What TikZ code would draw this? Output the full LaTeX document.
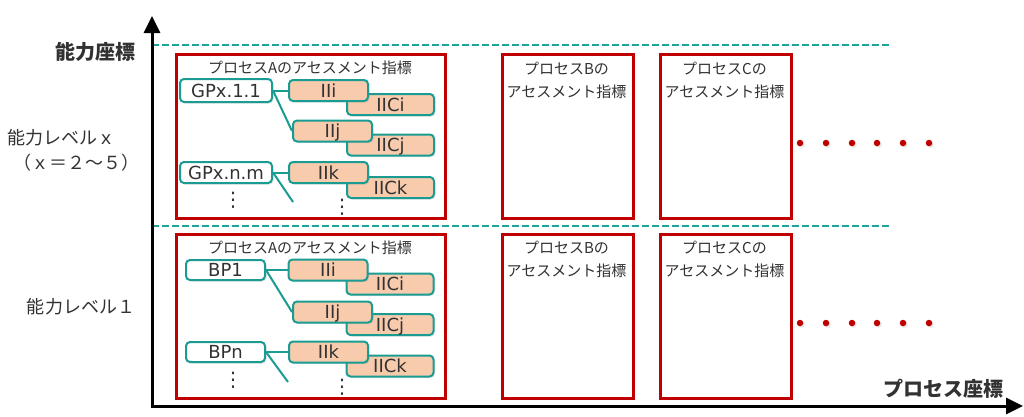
\documentclass[tikz,border=0pt]{standalone}
\usepackage{fontspec}
\setmainfont{Noto Sans CJK JP}
\newfontfamily\latf{DejaVu Sans}
\usetikzlibrary{arrows.meta,shadows}
\definecolor{tealb}{RGB}{26,156,146}
\definecolor{tealdash}{RGB}{30,165,155}
\definecolor{redb}{RGB}{192,0,0}
\definecolor{peach}{RGB}{248,203,173}
\definecolor{txt}{RGB}{50,50,50}
\begin{document}
\begin{tikzpicture}[x=1pt,y=-1pt,
  text=txt,
  softshadow/.style={drop shadow={shadow xshift=1.5pt,shadow yshift=-1.5pt,opacity=0.2}},
  procbox/.style={draw=redb,line width=2.5pt,fill=white,softshadow,anchor=north west,inner sep=0pt},
  smallbox/.style={draw=tealb,line width=2pt,rounded corners=4pt,softshadow,inner sep=0pt,
     text height=13.6pt,text depth=0.6pt,font=\latf\fontsize{18}{18}\selectfont},
  gpbox/.style={smallbox,fill=white},
  iibox/.style={smallbox,fill=peach,minimum width=79pt,minimum height=21pt},
  iicbox/.style={smallbox,fill=peach,minimum width=87pt,minimum height=21pt},
  ttl/.style={font=\fontsize{15}{23.5}\selectfont,align=center,inner sep=0pt},
  side/.style={font=\fontsize{18}{20}\selectfont,inner sep=0pt},
  axlabel/.style={font=\bfseries\fontsize{20}{22}\selectfont,inner sep=0pt},
  vdot/.style={font=\latf\fontsize{20}{20}\selectfont,inner sep=0pt},
  conn/.style={draw=tealb,line width=2pt},
  dashline/.style={draw=tealdash,line width=2pt,dash pattern=on 7pt off 3pt},
  axis/.style={line width=3pt,black,{Triangle[length=17pt,width=16pt]}-{Triangle[length=17pt,width=16pt]}},
  rdot/.style={circle,fill=redb,minimum size=6.5pt,inner sep=0pt,softshadow}
]
\useasboundingbox (0,0) rectangle (1024,416);

% dashed level lines
\coordinate (d1s) at (152,45);  \coordinate (d1e) at (890,45);
\coordinate (d2s) at (152,226); \coordinate (d2e) at (890,226);
\draw[dashline] (d1s) -- (d1e);
\draw[dashline] (d2s) -- (d2e);

% process boxes
\node[procbox,minimum width=269pt,minimum height=164pt] (A1) at (175,53) {};
\node[procbox,minimum width=131pt,minimum height=164pt] (B1) at (501,53) {};
\node[procbox,minimum width=131pt,minimum height=164pt] (C1) at (659,53) {};
\node[procbox,minimum width=269pt,minimum height=164pt] (A2) at (175,233) {};
\node[procbox,minimum width=131pt,minimum height=164pt] (B2) at (501,233) {};
\node[procbox,minimum width=131pt,minimum height=164pt] (C2) at (659,233) {};

% titles
\node[ttl] (tA1) at (310,68) {プロセスAのアセスメント指標};
\node[ttl] (tB1) at (566.5,80.5) {プロセスBの\\アセスメント指標};
\node[ttl] (tC1) at (724.5,80.5) {プロセスCの\\アセスメント指標};
\node[ttl] (tA2) at (310,248) {プロセスAのアセスメント指標};
\node[ttl] (tB2) at (566.5,259.5) {プロセスBの\\アセスメント指標};
\node[ttl] (tC2) at (724.5,259.5) {プロセスCの\\アセスメント指標};

% upper level indicators
\node[gpbox,minimum width=92pt,minimum height=23pt] (gA1) at (226,90.5) {GPx.1.1};
\node[iicbox] (cA1) at (390.5,104.5) {IICi};
\node[iibox] (iA1) at (328.5,90.5) {IIi};
\node[iicbox] (cA2) at (390.5,145) {IICj};
\node[iibox] (iA2) at (332.5,131) {IIj};
\node[gpbox,minimum width=92pt,minimum height=21pt] (gA2) at (226,172.5) {GPx.n.m};
\node[iicbox] (cA3) at (390.5,187.5) {IICk};
\node[iibox] (iA3) at (328.5,172.5) {IIk};
\coordinate (fA) at (293,202);
\draw[conn] (gA1.east) -- (iA1.west);
\draw[conn] (gA1.east) -- (iA2.west);
\draw[conn] (gA2.east) -- (iA3.west);
\draw[conn] (gA2.east) -- (fA);
\node[vdot] (vA1) at (233,200) {⋮};
\node[vdot] (vA2) at (342,207) {⋮};

% lower level indicators
\node[gpbox,minimum width=79pt,minimum height=20pt] (gB1) at (225.5,270) {BP1};
\node[iicbox] (cB1) at (390,284) {IICi};
\node[iibox] (iB1) at (328,270) {IIi};
\node[iicbox] (cB2) at (390,324.5) {IICj};
\node[iibox] (iB2) at (332.5,312) {IIj};
\node[gpbox,minimum width=79pt,minimum height=20pt] (gB2) at (225.5,352) {BPn};
\node[iicbox] (cB3) at (390,366) {IICk};
\node[iibox] (iB3) at (328.5,352) {IIk};
\coordinate (fB) at (288,382);
\draw[conn] (gB1.east) -- (iB1.west);
\draw[conn] (gB1.east) -- (iB2.west);
\draw[conn] (gB2.east) -- (iB3.west);
\draw[conn] (gB2.east) -- (fB);
\node[vdot] (vB1) at (233,380) {⋮};
\node[vdot] (vB2) at (342,387) {⋮};

% continuation dots
\foreach \i/\x in {1/800,2/826,3/852,4/877,5/903,6/929}{
  \node[rdot] (ra\i) at (\x,143) {};
  \node[rdot] (rb\i) at (\x,323) {};
}

% axes
\coordinate (O) at (152,406);
\coordinate (ytop) at (152,16);
\coordinate (xend) at (1023,406);
\draw[axis] (ytop) -- (O) -- (xend);

% axis and level labels
\node[axlabel] (yl) at (95.5,52) {能力座標};
\node[axlabel] (xl) at (943,389) {プロセス座標};
\node[side] (lx1) at (61,138) {能力レベルｘ};
\node[side] (lx2) at (76,163) {（ｘ＝２～５）};
\node[side] (l1) at (81,307) {能力レベル１};
\end{tikzpicture}
\end{document}
